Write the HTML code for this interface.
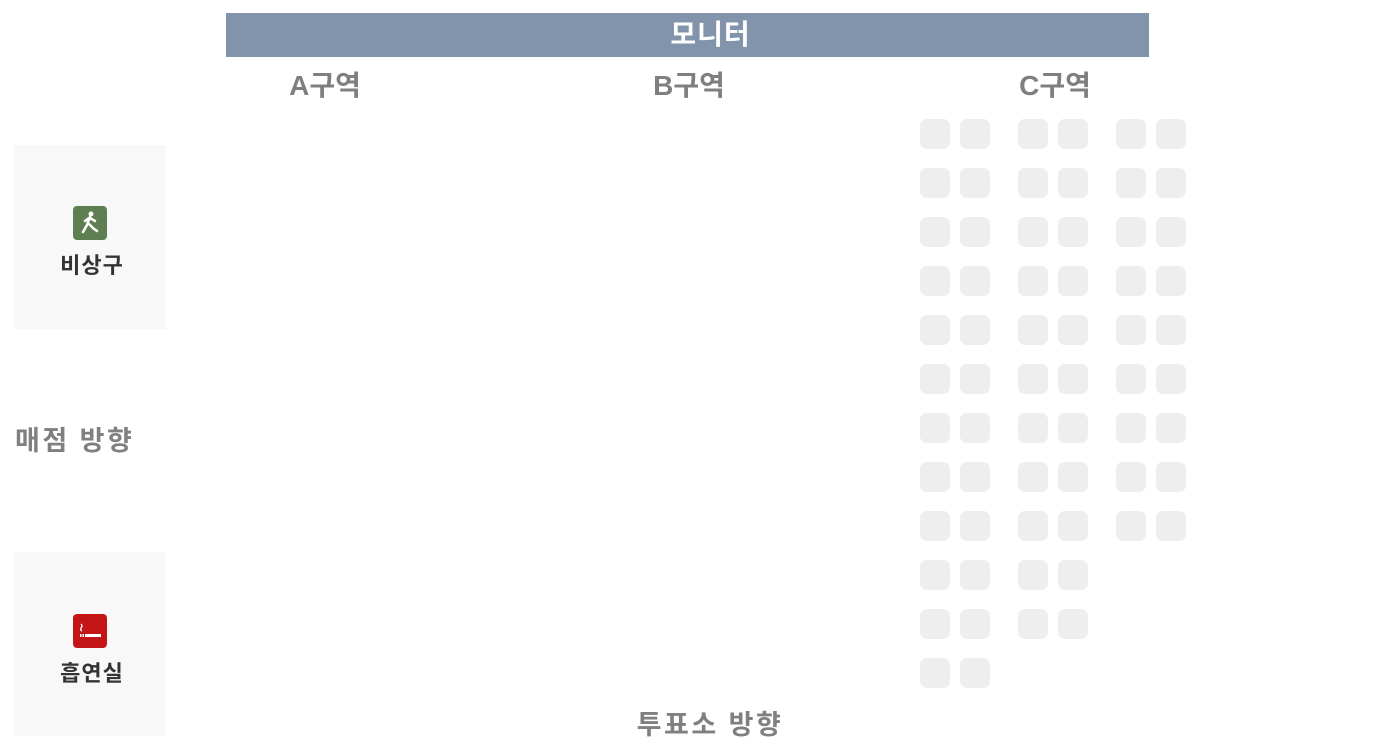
<!DOCTYPE html>
<html><head><meta charset="utf-8"><style>
body{margin:0;width:1375px;height:750px;background:#fff;position:relative;overflow:hidden;font-family:"Liberation Sans","Noto Sans CJK KR",sans-serif;}
.abs{position:absolute}
#monitor{left:226px;top:13px;width:923px;height:44px;background:#8294ac;color:#fff;font-weight:bold;font-size:28px;line-height:44px;text-align:center}
.zone{top:68px;font-size:28px;font-weight:bold;color:#7f7f7f;width:200px;text-align:center;line-height:36px}
.box{left:14px;width:152px;height:184px;background:#f8f8f8}
.icon{left:59px;width:34px;height:34px;border-radius:4px}
.blabel{left:2px;width:152px;text-align:center;font-size:22px;font-weight:bold;color:#333;letter-spacing:1px}
.dir{font-size:27px;font-weight:bold;color:#808080;letter-spacing:2.5px}
.seat{position:absolute;width:30px;height:30px;border-radius:7px;background:#eeeeee}
</style></head><body>
<div id="monitor" class="abs"><span style="position:relative;left:23px;letter-spacing:1px">모니터</span></div>
<div class="abs zone" style="left:225px">A구역</div>
<div class="abs zone" style="left:589px">B구역</div>
<div class="abs zone" style="left:955px">C구역</div>

<div class="abs box" style="top:145px">
 <div class="abs icon" style="top:61px;background:#5e7f51">
  <svg width="34" height="34" viewBox="0 0 34 34"><circle cx="18" cy="8" r="2.5" fill="#fff"/><path d="M17 11 L14 19 L10 26 M15 17 L20 22 L24 25 M16 12 L12 15 M17 12 L22 15" stroke="#fff" stroke-width="2.5" fill="none" stroke-linecap="round"/></svg>
 </div>
 <div class="abs blabel" style="top:103px">비상구</div>
</div>
<div class="abs box" style="top:552px">
 <div class="abs icon" style="top:62px;background:#c41516">
  <svg width="34" height="34" viewBox="0 0 34 34"><path d="M8 10 q2 2 0 4 q-1 2 1 3" stroke="#fff" stroke-width="1.3" fill="none"/><rect x="7" y="20" width="1.5" height="3" fill="#fff"/><rect x="9.5" y="20" width="1.5" height="3" fill="#fff"/><rect x="12" y="20" width="16" height="3" fill="#fff"/></svg>
 </div>
 <div class="abs blabel" style="top:104px">흡연실</div>
</div>
<div class="abs dir" style="left:15px;top:419px">매점 방향</div>
<div class="abs dir" style="left:600px;top:703px;width:220px;text-align:center">투표소 방향</div>
<div id="seats"></div>
<script>
const colX=[920,960,1018,1058,1116,1156];
const rowCounts=[12,12,11,11,9,9];
const rowTop=119, rowStep=49;
const host=document.getElementById('seats');
colX.forEach((x,c)=>{
  for(let r=0;r<rowCounts[c];r++){
    const el=document.createElement('div');
    el.className='seat';
    el.style.left=x+'px';
    el.style.top=(rowTop+r*rowStep)+'px';
    
    
    host.appendChild(el);
  }
});
</script>
</body></html>
